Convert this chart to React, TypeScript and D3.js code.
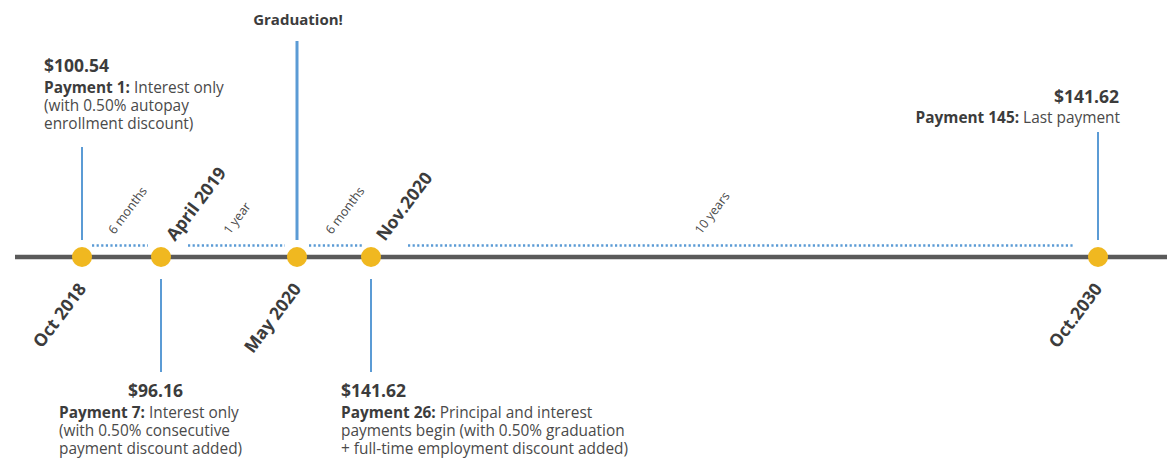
import * as d3 from "d3";
import React from "react";

// timeline milestones
const dates = ["Oct 2018", "April 2019", "May 2020", "Nov.2020", "Oct.2030"];
const monthsFromStart = [0, 6, 19, 25, 144];
const dateSide = ["below", "above", "below", "above", "below"];

// intervals between milestones
const spanLabels = ["6 months", "1 year", "6 months", "10 years"];

// callouts
const calloutTitles = ["$100.54", "$96.16", "Graduation!", "$141.62", "$141.62"];
const calloutLeads = ["Payment 1:", "Payment 7:", "", "Payment 26:", "Payment 145:"];
const calloutLines = [
  ["Interest only", "(with 0.50% autopay", "enrollment discount)"],
  ["Interest only", "(with 0.50% consecutive", "payment discount added)"],
  [],
  ["Principal and interest", "payments begin (with 0.50% graduation", "+ full-time employment discount added)"],
  ["Last payment"],
];

const W = 1167;
const H = 462;
const lineY = 257;
const ANGLE = -53;
const FONT = "'Open Sans', sans-serif";
const BLUE = "#5b9bd5";
const GOLD = "#f0b820";
const GREY = "#5a5a5a";
const TEXT = "#4a4a4a";
const DARK = "#3c3c3c";

// the axis is broken, so each leg gets its own share of the width
const x = d3.scaleLinear()
  .domain(monthsFromStart)
  .range([82, 161, 297, 371, 1098]);

// how each callout sits around its milestone
const calloutLayout = [
  { up: true, y0: 147, tx: -38, anchor: "start", titleY: 72, bodyX: -38, bodyY: 93, stroke: 2 },
  { up: false, y0: 372, tx: -33, anchor: "start", titleY: 397, bodyX: -102, bodyY: 418, stroke: 2 },
  { up: true, y0: 41, tx: 1, anchor: "middle", titleY: 25, bodyX: 0, bodyY: 0, stroke: 3, small: true },
  { up: false, y0: 372, tx: -30, anchor: "start", titleY: 397, bodyX: -30, bodyY: 418, stroke: 2 },
  { up: true, y0: 132, tx: 21, anchor: "end", titleY: 103, bodyX: 22, bodyY: 123, stroke: 2 },
];

// where the dotted interval lines start/stop and where labels start (fraction)
const spanGapStart = [10, 27, 12, 37];
const spanGapEnd = [13, 12, 9, 24];
const spanLabelAt = [0.4, 0.43, 0.43, 0.44];

export default function App() {
  return (
    <svg width={W} height={H} style={{ position: "absolute", left: 0, top: 0, background: "#fff" }} fontFamily={FONT}>
      {/* dotted interval lines */}
      {spanLabels.map((lab, i) => {
        const xa = x(monthsFromStart[i]) + spanGapStart[i];
        const xb = x(monthsFromStart[i + 1]) - spanGapEnd[i];
        const lx = xa + (xb - xa) * spanLabelAt[i];
        return (
          <g key={"span" + i}>
            <line x1={xa} x2={xb} y1={lineY - 11.5} y2={lineY - 11.5}
              stroke={BLUE} strokeWidth={2.4} strokeDasharray="2.2 2.4" />
            <text transform={`translate(${lx},${lineY - 22}) rotate(${ANGLE})`} textAnchor="start"
              fontSize={12.5} fill={TEXT}>{lab}</text>
          </g>
        );
      })}

      {/* main line */}
      <line x1={15} x2={W} y1={lineY} y2={lineY} stroke={GREY} strokeWidth={4.6} />

      {/* connectors */}
      {calloutLayout.map((c, i) => {
        const cx = x(monthsFromStart[i]);
        return (
          <line key={"con" + i} x1={cx} x2={cx}
            y1={c.up ? c.y0 : lineY + 22} y2={c.up ? lineY - 17 : c.y0}
            stroke={BLUE} strokeWidth={c.stroke} />
        );
      })}

      {/* milestone dots */}
      {monthsFromStart.map((m, i) => (
        <circle key={"dot" + i} cx={x(m)} cy={lineY} r={10} fill={GOLD} />
      ))}

      {/* date labels */}
      {dates.map((d, i) => {
        const cx = x(monthsFromStart[i]);
        const above = dateSide[i] === "above";
        const px = above ? cx + 14 : cx + 5;
        const py = above ? lineY - 15 : lineY + 32;
        return (
          <text key={"date" + i} transform={`translate(${px},${py}) rotate(${ANGLE})`}
            textAnchor={above ? "start" : "end"} fontSize={17.5} fontWeight={700} fill={DARK}>
            {d}
          </text>
        );
      })}

      {/* callout texts */}
      {calloutLayout.map((c, i) => {
        const cx = x(monthsFromStart[i]);
        const lines = calloutLines[i];
        return (
          <g key={"txt" + i}>
            <text x={cx + c.tx} y={c.titleY} textAnchor={c.anchor} fontSize={c.small ? 15 : 17.5}
              fontWeight={700} fill={DARK}>{calloutTitles[i]}</text>
            {lines.map((ln, j) => (
              <text key={j} x={cx + c.bodyX} y={c.bodyY + j * 18} textAnchor={c.anchor}
                fontSize={15.4} fill={TEXT}>
                {j === 0 && calloutLeads[i] ? (
                  <tspan fontWeight={700} fill={DARK}>{calloutLeads[i] + " "}</tspan>
                ) : null}
                {ln}
              </text>
            ))}
          </g>
        );
      })}
    </svg>
  );
}
